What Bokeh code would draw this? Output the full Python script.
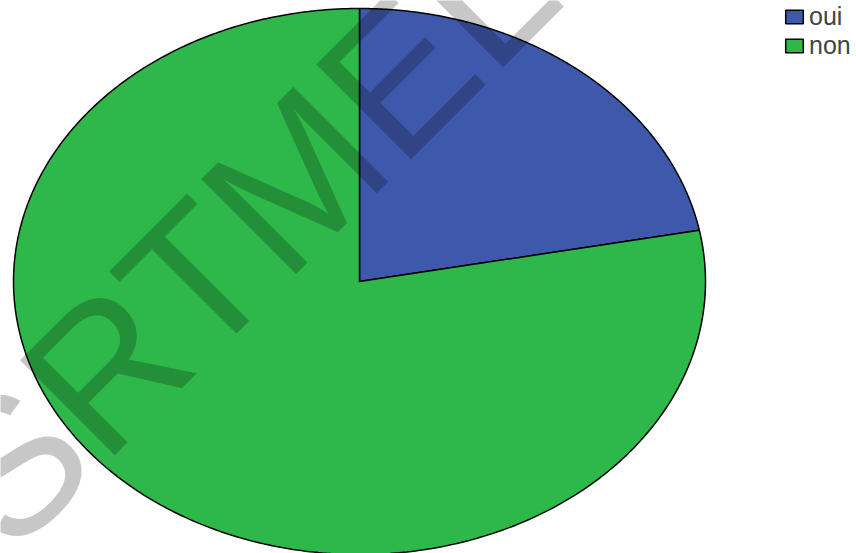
import numpy as np
from bokeh.plotting import figure
from bokeh.models import Range1d, Legend, LegendItem, Label
from bokeh.embed import file_html
from bokeh.resources import INLINE

# data
labels = ["oui", "non"]
values = [22, 78]
colors = ["#3e58ac", "#2eb84a"]

W, H = 856, 553
cx, cy = 359, 281       # pie centre in screen px (from top)
rx, ry = 346, 273        # ellipse radii in px

p = figure(width=W, height=H, output_backend="svg", toolbar_location=None,
           min_border=0, outline_line_color=None,
           x_range=Range1d(-cx / rx, (W - cx) / rx),
           y_range=Range1d(-(H - cy) / ry, cy / ry))
p.axis.visible = False
p.grid.visible = False
p.background_fill_color = "white"

total = float(sum(values))
start = np.pi / 2
renderers = []
for lab, v, c in zip(labels, values, colors):
    sweep = 2 * np.pi * v / total
    t = np.linspace(start, start - sweep, 400)
    xs = np.concatenate([[0.0], np.cos(t), [0.0]])
    ys = np.concatenate([[0.0], np.sin(t), [0.0]])
    r = p.patch(xs, ys, fill_color=c, line_color="black", line_width=1.5)
    renderers.append((lab, r))
    start -= sweep

legend = Legend(items=[LegendItem(label=l, renderers=[r]) for l, r in renderers],
                location=(783, 493), orientation="vertical",
                glyph_width=22, glyph_height=17, label_text_font_size="25px",
                label_text_font="Liberation Sans", label_standoff=4, spacing=-6,
                padding=0, margin=0, border_line_color=None,
                background_fill_alpha=0, label_height=17, label_text_baseline="middle")
p.add_layout(legend)

wm = Label(x=-37, y=43, x_units="screen", y_units="screen", text="SRTMEL",
           angle=np.pi / 4, text_font_size="195px", text_font="Liberation Sans",
           text_color="black", text_alpha=0.22, text_align="left",
           text_baseline="alphabetic")
p.add_layout(wm)

open("out.html", "w").write(file_html(p, INLINE))
